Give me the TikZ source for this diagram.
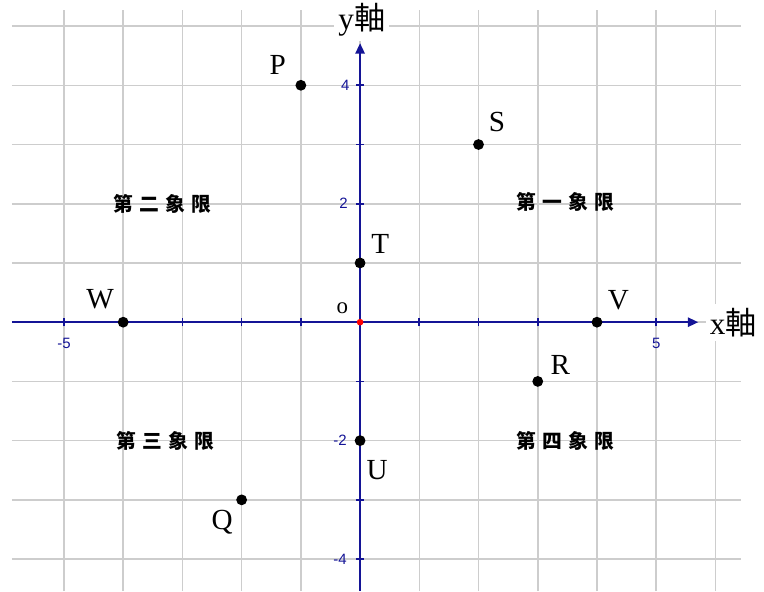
\documentclass[tikz,border=0pt]{standalone}
\usepackage{fontspec}
\setmainfont{Liberation Serif}
\newfontfamily\cjk{Noto Sans CJK TC}
\newfontfamily\numfont{Liberation Sans}
\usepackage{tikz}
\usetikzlibrary{arrows.meta,positioning}

\definecolor{axisblue}{RGB}{20,20,150}
\definecolor{gridgray}{RGB}{205,205,205}

\begin{document}
\begin{tikzpicture}[>={Triangle[length=5pt,width=4.5pt]},
  pt/.style={circle,fill=black,inner sep=0pt,minimum size=5.2pt},
  ptname/.style={font=\fontsize{14}{14}\selectfont},
  tick/.style={font=\numfont\fontsize{7.2}{8}\selectfont,text=axisblue,inner sep=0pt},
  quad/.style={font=\cjk\bfseries\fontsize{9.5}{10}\selectfont},
  axname/.style={fill=white,inner sep=2pt,font=\fontsize{15}{15}\selectfont}]
  \useasboundingbox (-6.08,-4.54) rectangle (6.82,5.44);
  % grid
  \foreach \i in {-5,...,6}
    \draw[gridgray,line width=0.75pt] (\i,-4.54) -- (\i,5.27);
  \foreach \j in {-4,...,5}
    \draw[gridgray,line width=0.75pt] (-5.88,\j) -- (6.44,\j);
  % axes
  \coordinate (xs) at (-5.88,0);
  \coordinate (xe) at (5.71,0);
  \coordinate (ys) at (0,-4.54);
  \coordinate (ye) at (0,4.71);
  \node[axname] (xlab) at (6.30,0) {x{\cjk 軸}};
  \node[axname] (ylab) at (0.03,5.10) {y{\cjk 軸}};
  \draw[->,axisblue,line width=0.8pt] (xs) -- (xe);
  \draw[->,axisblue,line width=0.8pt] (ys) -- (ye);
  \foreach \i in {-5,...,5}
    \draw[axisblue,line width=0.8pt] (\i,-0.07) -- (\i,0.07);
  \foreach \j in {-4,...,4}
    \draw[axisblue,line width=0.8pt] (-0.07,\j) -- (0.07,\j);
  \node[tick] (xm5) at (-5,-0.35) {-5};
  \node[tick] (xp5) at (5,-0.35) {5};
  \node[tick] (yp4) at (-0.25,4) {4};
  \node[tick] (yp2) at (-0.28,2) {2};
  \node[tick] (ym2) at (-0.34,-2) {-2};
  \node[tick] (ym4) at (-0.34,-4) {-4};
  % origin
  \node[circle,fill=red,inner sep=0pt,minimum size=3.2pt] (O) at (0,0) {};
  \node[font=\fontsize{11}{11}\selectfont] (olab) at (-0.3,0.24) {o};
  % points
  \node[pt] (P) at (-1,4) {};
  \node[pt] (S) at (2,3) {};
  \node[pt] (T) at (0,1) {};
  \node[pt] (W) at (-4,0) {};
  \node[pt] (V) at (4,0) {};
  \node[pt] (R) at (3,-1) {};
  \node[pt] (U) at (0,-2) {};
  \node[pt] (Q) at (-2,-3) {};
  \node[ptname] (Plab) at (-1.39,4.34) {P};
  \node[ptname] (Slab) at (2.31,3.38) {S};
  \node[ptname] (Tlab) at (0.34,1.32) {T};
  \node[ptname] (Wlab) at (-4.39,0.39) {W};
  \node[ptname] (Vlab) at (4.36,0.37) {V};
  \node[ptname] (Rlab) at (3.38,-0.73) {R};
  \node[ptname] (Ulab) at (0.29,-2.50) {U};
  \node[ptname] (Qlab) at (-2.33,-3.38) {Q};
  % quadrants
  \node[quad] (q1) at (3.46,2.03) {第\hspace{3pt}一\hspace{3pt}象\hspace{3pt}限};
  \node[quad] (q2) at (-3.33,1.99) {第\hspace{3pt}二\hspace{3pt}象\hspace{3pt}限};
  \node[quad] (q3) at (-3.29,-2.01) {第\hspace{3pt}三\hspace{3pt}象\hspace{3pt}限};
  \node[quad] (q4) at (3.46,-2.01) {第\hspace{3pt}四\hspace{3pt}象\hspace{3pt}限};
\end{tikzpicture}
\end{document}
